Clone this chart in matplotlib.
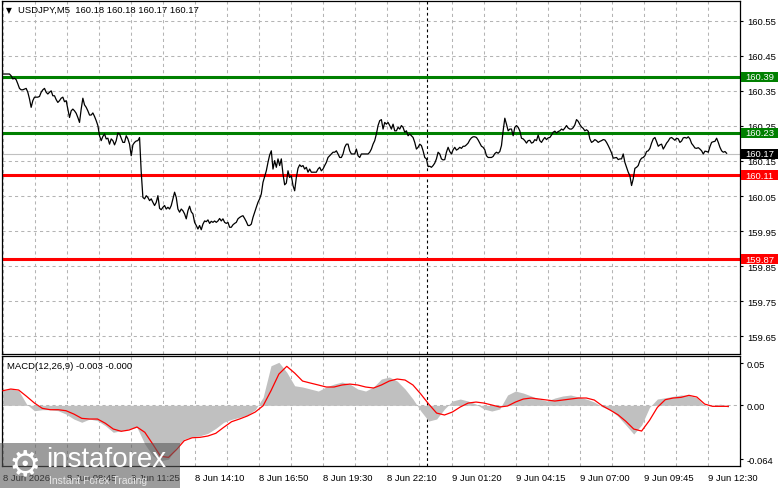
import numpy as np
import matplotlib.pyplot as plt
from matplotlib.patches import Rectangle
from matplotlib.transforms import blended_transform_factory

plt.rcParams['font.family'] = ['Liberation Sans', 'DejaVu Sans']

W, H = 781, 489

# USDJPY M5 closes, one reading every 5/6 of a bar
close = [
    160.398, 160.398, 160.398, 160.398, 160.398, 160.393, 160.384, 160.386, 160.382, 160.370,
    160.357, 160.353, 160.353, 160.355, 160.357, 160.346, 160.327, 160.303, 160.322, 160.332,
    160.332, 160.332, 160.334, 160.346, 160.353, 160.357, 160.346, 160.341, 160.346, 160.350,
    160.336, 160.336, 160.325, 160.317, 160.322, 160.329, 160.332, 160.319, 160.322, 160.298,
    160.274, 160.293, 160.298, 160.293, 160.286, 160.274, 160.260, 160.298, 160.329, 160.310,
    160.303, 160.293, 160.281, 160.281, 160.287, 160.277, 160.265, 160.251, 160.222, 160.208,
    160.220, 160.227, 160.213, 160.215, 160.198, 160.213, 160.208, 160.196, 160.208, 160.230,
    160.227, 160.215, 160.203, 160.203,
    160.222, 160.213, 160.198, 160.165, 160.196, 160.203, 160.207, 160.208, 160.217, 160.118,
    160.046, 160.042, 160.051, 160.046, 160.037, 160.042, 160.032, 160.023, 160.032, 160.051,
    160.015, 160.011, 160.018, 160.023, 160.013, 160.018, 160.013, 160.023, 160.042, 160.061,
    160.046, 160.013, 160.004, 160.013, 160.008, 159.999, 159.985, 160.008, 160.021, 160.005,
    159.999, 159.975, 159.966, 159.956, 159.966, 159.954, 159.970, 159.979, 159.977, 159.982,
    159.972, 159.978, 159.975, 159.979, 159.975, 159.979, 159.986, 159.979, 159.985, 159.975,
    159.972, 159.975, 159.961, 159.961, 159.968, 159.972, 159.975, 159.985, 159.989, 159.992,
    159.994, 159.986, 159.977, 159.966, 159.966,
    159.970, 159.989, 160.004, 160.018, 160.032, 160.042, 160.056, 160.089, 160.106, 160.122,
    160.146, 160.167, 160.179, 160.127, 160.151, 160.132, 160.156, 160.137, 160.156, 160.113,
    160.082, 160.087, 160.122, 160.103, 160.108, 160.080, 160.065, 160.103, 160.129, 160.139,
    160.134, 160.137, 160.127, 160.132, 160.118, 160.127, 160.118, 160.118, 160.118, 160.118,
    160.127, 160.132, 160.122, 160.127, 160.137, 160.146, 160.160, 160.165, 160.170, 160.175,
    160.175, 160.179, 160.170, 160.160, 160.160, 160.170, 160.189, 160.198, 160.198, 160.179,
    160.170, 160.170, 160.170, 160.184, 160.165, 160.160, 160.170, 160.170, 160.170, 160.170,
    160.170, 160.175, 160.184, 160.198, 160.208,
    160.227, 160.251, 160.265, 160.268, 160.241, 160.260, 160.255, 160.260, 160.251, 160.241,
    160.255, 160.236, 160.236, 160.246, 160.241, 160.251, 160.246, 160.232, 160.236, 160.222,
    160.227, 160.222, 160.217, 160.203, 160.184, 160.189, 160.198, 160.194, 160.179, 160.160,
    160.156, 160.134, 160.135, 160.132, 160.137, 160.144, 160.156, 160.175, 160.170, 160.156,
    160.153, 160.154, 160.175, 160.189, 160.177, 160.170, 160.182, 160.189, 160.181, 160.184,
    160.189, 160.186, 160.192, 160.192, 160.196, 160.201, 160.210, 160.216, 160.219, 160.219,
    160.217, 160.210, 160.201, 160.192, 160.189, 160.182, 160.165, 160.160, 160.160, 160.160,
    160.163, 160.171, 160.175, 160.172, 160.177,
    160.194, 160.236, 160.272, 160.255, 160.236, 160.241, 160.241, 160.222, 160.246, 160.251,
    160.246, 160.236, 160.215, 160.213, 160.208, 160.201, 160.208, 160.209, 160.201, 160.203,
    160.211, 160.208, 160.224, 160.208, 160.203, 160.211, 160.217, 160.211, 160.216, 160.217,
    160.224, 160.232, 160.235, 160.230, 160.234, 160.236, 160.241, 160.238, 160.244, 160.251,
    160.244, 160.241, 160.241, 160.245, 160.253, 160.268, 160.263, 160.254, 160.247, 160.243,
    160.236, 160.239, 160.235, 160.213, 160.203, 160.206, 160.211, 160.208, 160.203, 160.206,
    160.208, 160.211, 160.210, 160.203, 160.194, 160.184, 160.173, 160.158, 160.159, 160.160,
    160.154, 160.156,
    160.156, 160.170, 160.146, 160.132, 160.118, 160.108, 160.080, 160.099, 160.129, 160.132,
    160.137, 160.151, 160.158, 160.160, 160.165, 160.177, 160.179, 160.186, 160.201, 160.213,
    160.217, 160.205, 160.192, 160.196, 160.198, 160.184, 160.192, 160.201, 160.207, 160.215,
    160.217, 160.213, 160.209, 160.215, 160.213, 160.203, 160.207, 160.216, 160.217, 160.215,
    160.219, 160.213, 160.200, 160.194, 160.187, 160.186, 160.188, 160.184, 160.179, 160.170,
    160.178, 160.177, 160.175, 160.191, 160.203, 160.205, 160.206, 160.215, 160.203, 160.189,
    160.179, 160.175, 160.177, 160.172,
]
close_step = 5 / 6
t_close = -0.2 + close_step * np.arange(len(close))

# MACD(12,26,9): main line (histogram) and signal line
macd_main = [
    0.0174, 0.0194, 0.0174, 0.0015, -0.0064, -0.0052, -0.0052, -0.0064, -0.0104, -0.0163,
    -0.0202, -0.0163, -0.0183, -0.0243, -0.0321, -0.0302, -0.0282, -0.0262, -0.0461, -0.0600,
    -0.0660, -0.0640, -0.0500, -0.0401, -0.0374, -0.0362, -0.0333, -0.0274, -0.0202, -0.0167,
    -0.0143, -0.0115, -0.0052, 0.0095, 0.0471, 0.0512, 0.0393, 0.0233, 0.0218, 0.0194,
    0.0170, 0.0218, 0.0253, 0.0277, 0.0253, 0.0194, 0.0170, 0.0218, 0.0313, 0.0337,
    0.0289, 0.0194, 0.0075, -0.0068, -0.0187, -0.0163, -0.0044, 0.0051, 0.0075, 0.0051,
    0.0015, -0.0044, -0.0068, -0.0044, 0.0123, 0.0170, 0.0146, 0.0111, 0.0075, 0.0051,
    0.0087, 0.0111, 0.0123, 0.0099, 0.0075, 0.0039, -0.0017, -0.0052, -0.0131, -0.0234,
    -0.0342, -0.0234, -0.0024, 0.0075, 0.0090, 0.0107, 0.0123, 0.0119, 0.0090, -0.0004,
    -0.0004, 0.0015, -0.0024,
]
macd_signal = [
    0.0174, 0.0194, 0.0182, 0.0107, 0.0027, -0.0036, -0.0052, -0.0052, -0.0064, -0.0104,
    -0.0155, -0.0163, -0.0163, -0.0214, -0.0282, -0.0309, -0.0294, -0.0258, -0.0321, -0.0461,
    -0.0607, -0.0619, -0.0528, -0.0421, -0.0386, -0.0381, -0.0365, -0.0333, -0.0262, -0.0195,
    -0.0163, -0.0127, -0.0080, -0.0005, 0.0174, 0.0372, 0.0464, 0.0384, 0.0289, 0.0265,
    0.0242, 0.0218, 0.0218, 0.0242, 0.0253, 0.0242, 0.0218, 0.0206, 0.0242, 0.0289,
    0.0313, 0.0301, 0.0242, 0.0134, 0.0015, -0.0092, -0.0115, -0.0080, -0.0020, 0.0027,
    0.0039, 0.0027, 0.0004, -0.0020, -0.0008, 0.0039, 0.0075, 0.0087, 0.0075, 0.0063,
    0.0051, 0.0063, 0.0075, 0.0087, 0.0087, 0.0063, -0.0005, -0.0056, -0.0112, -0.0190,
    -0.0282, -0.0306, -0.0179, -0.0024, 0.0067, 0.0087, 0.0095, 0.0119, 0.0099, 0.0015,
    -0.0012, -0.0012, -0.0012,
]
macd_step = 3.94  # bars between MACD readings
t_macd = -0.15 + macd_step * np.arange(len(macd_main))

green_levels = [160.39, 160.23]
red_levels = [160.11, 159.87]
last_price = 160.17

price_ticks = [159.65, 159.75, 159.85, 159.95, 160.05, 160.15, 160.25, 160.35, 160.45, 160.55]
macd_ticks = [0.05, 0.0, -0.064]
macd_tick_labels = ['0.05', '0.00', '-0.064']
date_labels = ['8 Jun 2026', '8 Jun 08:45', '8 Jun 11:25', '8 Jun 14:10', '8 Jun 16:50',
               '8 Jun 19:30', '8 Jun 22:10', '9 Jun 01:20', '9 Jun 04:15', '9 Jun 07:00',
               '9 Jun 09:45', '9 Jun 12:30']
date_bars = [32 * i for i in range(len(date_labels))]
separator_bar = 211.8

fig = plt.figure(figsize=(W / 100, H / 100), dpi=100)


def add_panel(left, top, right, bottom):
    return fig.add_axes([left / W, 1 - bottom / H, (right - left) / W, (bottom - top) / H])


ax = add_panel(2, 2, 740, 355)
ax2 = add_panel(2, 357, 740, 467)

grid_kw = dict(color='#b4b4b4', lw=0.75, ls=(0, (3, 3)), zorder=0)
for a in (ax, ax2):
    a.set_xlim(-0.6, 368.15)
    for b in range(0, 369, 16):
        a.axvline(b, **grid_kw)
    a.axvline(separator_bar, color='black', lw=0.8, ls=(0, (2.5, 2.5)), zorder=1)
    for s in a.spines.values():
        s.set_color('black')
        s.set_linewidth(0.9)
    a.yaxis.tick_right()
    a.tick_params(axis='y', length=2.5, width=0.8, pad=2.5, labelsize=6.8, colors='black')

# ---- price panel ----
ax.set_ylim(159.5996, 160.6062)
for p in price_ticks:
    ax.axhline(p, **grid_kw)
ax.axhline(last_price, color='#c0c0c0', lw=0.8, zorder=1)
for lv in green_levels:
    ax.axhline(lv, color='#008000', lw=2.2, zorder=2)
for lv in red_levels:
    ax.axhline(lv, color='#ff0000', lw=2.2, zorder=2)
ax.plot(t_close, close, color='black', lw=0.9, zorder=3)
ax.set_yticks(price_ticks)
ax.set_yticklabels([f'{p:.2f}' for p in price_ticks])
ax.set_xticks([])

trans = blended_transform_factory(ax.transAxes, ax.transData)
tag_h = 10.5 / 353 * (160.6062 - 159.5996)
tags = [(lv, '#008000') for lv in green_levels] + [(lv, '#ff0000') for lv in red_levels] \
    + [(last_price, 'black')]
for lv, col in tags:
    ax.add_patch(Rectangle((1 + 1.2 / 738, lv - tag_h / 2), 37 / 738, tag_h, transform=trans,
                           facecolor=col, edgecolor='none', clip_on=False, zorder=5))
    ax.text(1 + 5 / 738, lv, f'{lv:.2f}', transform=trans, color='white', fontsize=6.8,
            va='center', ha='left', zorder=6, clip_on=False)

# ---- MACD panel ----
ax2.set_ylim(-0.0722, 0.0587)
ax2.axhline(0, **grid_kw)
ax2.fill_between(t_macd, 0, macd_main, color='#c0c0c0', lw=0, zorder=1)
ax2.plot(t_macd, macd_signal, color='#ff0000', lw=0.9, zorder=3)
ax2.set_yticks(macd_ticks)
ax2.set_yticklabels(macd_tick_labels)
ax2.set_xticks(date_bars)
ax2.set_xticklabels(date_labels, fontsize=6.8, ha='left')
ax2.tick_params(axis='x', length=0, pad=5)
for lbl in ax2.get_xticklabels():
    lbl.set_x(lbl.get_position()[0])

# ---- header texts ----
fig.text(6 / W, 1 - 10.7 / H, '\u25bc', fontsize=5.5, va='center', ha='left',
         family=['DejaVu Sans'])
fig.text(18 / W, 1 - 10.7 / H, 'USDJPY,M5  160.18 160.18 160.17 160.17', fontsize=6.8,
         va='center', ha='left', color='black')
fig.text(7 / W, 1 - 366.7 / H, 'MACD(12,26,9) -0.003 -0.000', fontsize=6.8,
         va='center', ha='left', color='black')

# ---- watermark ----
fig.add_artist(Rectangle((0, 0), 180 / W, 45 / H, transform=fig.transFigure,
                         facecolor='#5a5a5a', alpha=0.6, edgecolor='none', zorder=10))
fig.text(25 / W, 1 - 465 / H, '\u2699', fontsize=26, color='white', ha='center',
         va='center', family=['DejaVu Sans'], zorder=11)
fig.text(46 / W, 1 - 460 / H, 'instaforex', fontsize=20, color='white', ha='left',
         va='center', zorder=11)
fig.text(49 / W, 1 - 481 / H, 'Instant Forex Trading', fontsize=7.5, color='#e6e6e6',
         ha='left', va='center', zorder=11)

fig.savefig('out.png', dpi=100)
